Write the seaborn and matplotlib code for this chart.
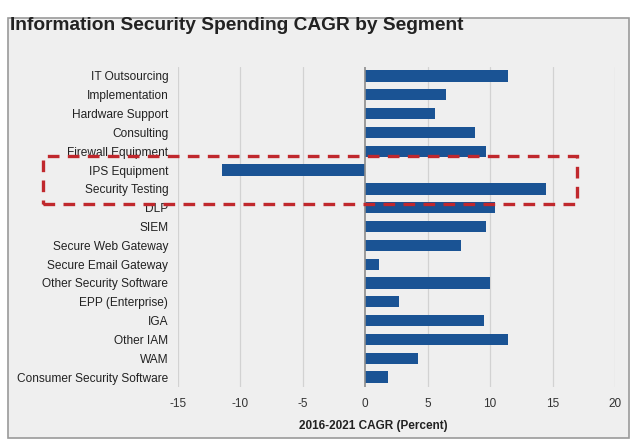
import matplotlib
matplotlib.use("Agg")
import matplotlib.pyplot as plt
import seaborn as sns
import pandas as pd
from matplotlib.patches import Rectangle

# segments, top to bottom, and their 2016-2021 CAGR (percent)
segments = ["IT Outsourcing", "Implementation", "Hardware Support", "Consulting",
            "Firewall Equipment", "IPS Equipment", "Security Testing", "DLP", "SIEM",
            "Secure Web Gateway", "Secure Email Gateway", "Other Security Software",
            "EPP (Enterprise)", "IGA", "Other IAM", "WAM", "Consumer Security Software"]
cagr = [11.4, 6.45, 5.6, 8.8, 9.7, -11.5, 14.5, 10.4, 9.7,
        7.7, 1.1, 10.0, 2.7, 9.5, 11.4, 4.2, 1.8]
xticks = [-15, -10, -5, 0, 5, 10, 15, 20]

df = pd.DataFrame({"segment": segments, "cagr": cagr})

sns.set_style("white")
plt.rcParams["font.family"] = ["Liberation Sans", "DejaVu Sans"]

bg = "#efefef"
fig = plt.figure(figsize=(6.4, 4.44), dpi=100, facecolor="white")
# light grey panel with a thin border, like the original slide
fig.patches.append(Rectangle((8/640, 1-438/444), 621/640, 420/444, transform=fig.transFigure,
                             facecolor=bg, edgecolor="#9a9a9a", lw=1.2, zorder=-1))

ax = fig.add_axes([178/640, 1-386.5/444, 437/640, 320/444])
ax.set_zorder(1)
ax.set_facecolor(bg)
sns.barplot(data=df, x="cagr", y="segment", orient="h", color="#1a5394",
            width=0.6, saturation=1, linewidth=0, ax=ax)

ax.set_xlim(-15, 20)
ax.set_ylim(16.5, -0.5)
ax.set_xticks(xticks)
ax.set_xticklabels([str(t) for t in xticks], fontsize=8.5, color="#333333")
ax.tick_params(axis="y", labelsize=8.6, labelcolor="#222222", length=0, pad=7)
ax.tick_params(axis="x", length=0, pad=8)
for t in xticks:
    if t != 0:
        ax.axvline(t, color="#d2d2d2", lw=0.9, zorder=0)
ax.axvline(0, color="#8c8c8c", lw=1.2, zorder=3)
for s in ax.spines.values():
    s.set_visible(False)

ax.set_ylabel("")
ax.set_xlabel("2016-2021 CAGR (Percent)", fontsize=8.5, fontweight="bold", color="#222222")
ax.xaxis.set_label_coords(0.446, -0.105)

fig.text(10/640, 1-25/444, "Information Security Spending CAGR by Segment",
         fontsize=13.8, fontweight="bold", color="#222222", va="center", ha="left")

# red dashed highlight box
fig.patches.append(Rectangle((43/640, 1-204/444), 534/640, 48/444, transform=fig.transFigure,
                             fill=False, edgecolor="#c0282d", lw=2.4, ls=(0, (3.5, 2.5)), zorder=5))

fig.savefig("out.png", dpi=100, facecolor="white")
